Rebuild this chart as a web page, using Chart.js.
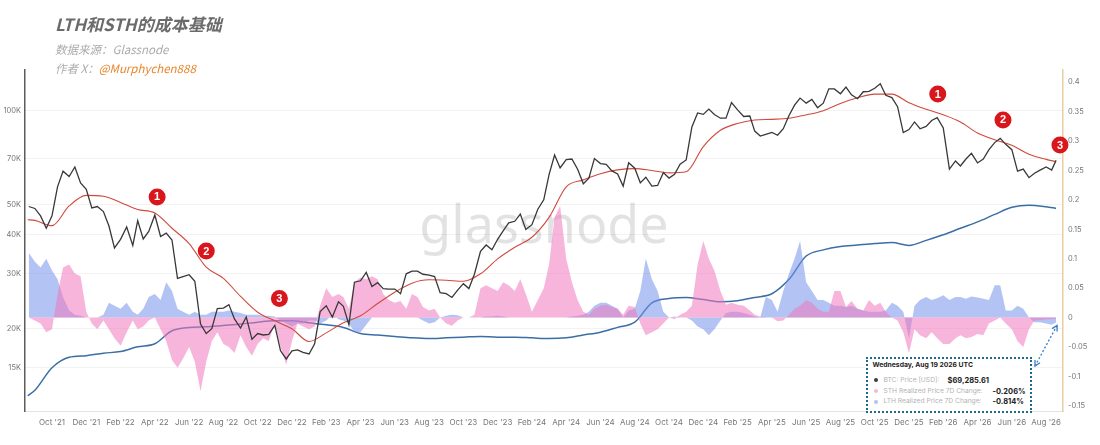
<!DOCTYPE html>
<html>
<head>
<meta charset="utf-8">
<title>LTH和STH的成本基础</title>
<script src="https://cdn.jsdelivr.net/npm/chart.js@4.4.1/dist/chart.umd.min.js"></script>
<style>
  html, body { margin: 0; padding: 0; background: #fff; }
  #wrap { position: relative; width: 1100px; height: 445px; overflow: hidden; font-family: "Noto Sans CJK SC", "Noto Sans", sans-serif; }
  #chart { position: absolute; left: 0; top: 0; }
  .title { position: absolute; left: 55px; top: 15px; font-size: 17px; line-height: 17px; font-weight: 700; font-style: italic; color: #6b6b6b; white-space: nowrap; }
  .sub { position: absolute; left: 55px; font-size: 11.5px; line-height: 12px; font-style: italic; color: #ababab; white-space: nowrap; }
  .sub .handle { color: #e8862c; }
  #tip { position: absolute; left: 866px; top: 357px; width: 166px; height: 56px; box-sizing: border-box; border: 2.5px dotted #1e6a8c; background: #fff; font-family: Inter, "Noto Sans", sans-serif; }
  #tip span { position: absolute; white-space: nowrap; line-height: 9px; }
  #tip .head { left: 4.5px; top: 0.5px; font-size: 6.8px; font-weight: 700; color: #222; }
  #tip .lbl { left: 15.5px; font-size: 6.7px; color: #b3b3b3; }
  #tip .val { font-size: 7.5px; font-weight: 700; color: #222; }
  #tip .dot { left: 5.5px; width: 4px; height: 4px; border-radius: 2px; }
</style>
</head>
<body>
<div id="wrap">
  <canvas id="chart" width="1100" height="445"></canvas>
  <div class="title">LTH和STH的成本基础</div>
  <div class="sub" style="top:43px">数据来源：Glassnode</div>
  <div class="sub" style="top:62px">作者 X：<span class="handle">@Murphychen888</span></div>
  <div id="tip">
    <span class="head">Wednesday, Aug 19 2026 UTC</span>
    <span class="dot" style="top:19.2px;background:#3d3d3d"></span>
    <span class="lbl" style="top:16.7px">BTC: Price [USD]:</span>
    <span class="val" style="top:16.7px;left:79.5px">$69,285.61</span>
    <span class="dot" style="top:30.2px;background:#f5b8da"></span>
    <span class="lbl" style="top:27.7px">STH Realized Price 7D Change:</span>
    <span class="val" style="top:27.7px;left:124.5px">-0.206%</span>
    <span class="dot" style="top:40.8px;background:#b5c3ef"></span>
    <span class="lbl" style="top:38.3px">LTH Realized Price 7D Change:</span>
    <span class="val" style="top:38.3px;left:124.5px">-0.814%</span>
  </div>
</div>
<script>
// x axis labels, one every 2 months starting Oct '21
var tickLabels = ["Oct '21", "Dec '21", "Feb '22", "Apr '22", "Jun '22", "Aug '22", "Oct '22", "Dec '22",
  "Feb '23", "Apr '23", "Jun '23", "Aug '23", "Oct '23", "Dec '23", "Feb '24", "Apr '24", "Jun '24",
  "Aug '24", "Oct '24", "Dec '24", "Feb '25", "Apr '25", "Jun '25", "Aug '25", "Oct '25", "Dec '25",
  "Feb '26", "Apr '26", "Jun '26", "Aug '26"];

var priceTicks = [15000, 20000, 30000, 40000, 50000, 70000, 100000];
var priceTickLabels = ['15K', '20K', '30K', '40K', '50K', '70K', '100K'];
var changeTicks = [-0.15, -0.1, -0.05, 0, 0.05, 0.1, 0.15, 0.2, 0.25, 0.3, 0.35, 0.4];
var changeTickLabels = ['-0.15', '-0.1', '-0.05', '0', '0.05', '0.1', '0.15', '0.2', '0.25', '0.3', '0.35', '0.4'];

// BTC price, every 1st / 11th / 21st (from 2021-08-21 to 2026-08-19)
var btcPrice = [
  49300, 48600, 46000, 42000, 46000, 57000, 64000, 61500, 66000, 58700, 56000, 48800, 49300,
  47500, 42700, 36300, 38700, 42400, 37000, 44400, 38800, 41000, 46300, 39500, 40500,
  38500, 29000, 29400, 29800, 28400, 20700, 19300, 20000, 23200, 23300, 23900, 21500,
  20100, 21800, 18500, 19300, 19100, 19200, 20500, 17000, 16000, 17000, 17100, 16800,
  16600, 17900, 22700, 23700, 21800, 24400, 23600, 20600, 28200, 28500, 30300, 27300,
  28100, 26900, 26800, 26800, 25900, 30000, 30600, 30600, 29900, 29700, 29400, 26100,
  25900, 25200, 26600, 27900, 26900, 29900, 35400, 37100, 35800, 38700, 41200, 43700,
  44200, 46600, 41600, 43100, 48300, 51800, 62400, 72100, 65500, 69700, 70000, 64900,
  58300, 60800, 70200, 67700, 67300, 64100, 62700, 57300, 68100, 65400, 58700, 61200,
  57300, 57600, 63300, 60800, 62500, 67400, 69500, 88700, 98300, 97300, 101200, 97200,
  94600, 94600, 106100, 100600, 95800, 96100, 86000, 82900, 84000, 85200, 83400, 87500,
  96500, 104200, 109700, 105700, 108700, 102200, 105700, 117500, 117400, 113300, 119000, 112400,
  109200, 115000, 115300, 118000, 122000, 112000, 110100, 103000, 85100, 87000, 92000, 87500,
  89000, 93000, 95000, 88000, 65000, 69000, 66500, 70000, 73000, 68000, 70000, 75000,
  79000, 81500, 78000, 75000, 64000, 65000, 61000, 63000, 64500, 66000, 64500, 69285.61
];

// STH realized price 7D change (pink area, right axis), same dates as btcPrice
var sthChange7d = [
  0.0, -0.005, -0.01, -0.025, -0.02, 0.04, 0.085, 0.09, 0.075, 0.07, 0.01, -0.01, -0.02,
  -0.005, -0.02, -0.035, -0.048, -0.025, -0.005, -0.02, -0.015, -0.005, 0.0, -0.02, -0.04,
  -0.072, -0.085, -0.07, -0.05, -0.075, -0.125, -0.075, -0.04, -0.025, -0.045, -0.05, -0.06,
  -0.03, -0.05, -0.065, -0.045, -0.035, -0.04, -0.01, -0.05, -0.08, -0.04, -0.01, -0.015,
  -0.02, -0.015, 0.02, 0.05, 0.035, 0.04, 0.035, 0.015, 0.06, 0.068, 0.065, 0.07,
  0.065, 0.04, 0.03, 0.025, 0.028, 0.015, 0.04, 0.035, 0.018, 0.012, 0.015, 0.0,
  -0.01, -0.014, -0.005, 0.0, 0.0, 0.005, 0.05, 0.055, 0.05, 0.045, 0.06, 0.055,
  0.045, 0.065, 0.04, 0.01, 0.03, 0.05, 0.09, 0.17, 0.19, 0.1, 0.06, 0.03,
  0.01, 0.005, 0.015, 0.02, 0.022, 0.018, 0.015, 0.005, 0.02, 0.018, -0.01, -0.03,
  -0.025, -0.02, -0.01, 0.0, -0.003, 0.005, 0.01, 0.02, 0.09, 0.13, 0.1, 0.08,
  0.045, 0.022, 0.025, 0.022, 0.02, 0.012, 0.005, 0.002, 0.0, 0.0, -0.006, -0.005,
  0.005, 0.015, 0.02, 0.03, 0.025, 0.015, 0.01, 0.01, 0.045, 0.045, 0.018, 0.028,
  0.015, 0.012, 0.03, 0.02, 0.025, 0.01, 0.0, -0.005, -0.025, -0.06, -0.02, -0.03,
  -0.035, -0.025, -0.035, -0.045, -0.045, -0.035, -0.03, -0.035, -0.033, -0.028, -0.03, -0.01,
  -0.005, 0.0, -0.01, -0.02, -0.04, -0.05, -0.02, -0.005, -0.004, -0.003, -0.003, -0.00206
];

// LTH realized price 7D change (blue area, right axis)
var lthChange7d = [
  0.11, 0.095, 0.085, 0.1, 0.08, 0.065, 0.035, 0.012, 0.005, 0.003, 0.0, 0.0, 0.0,
  0.005, 0.025, 0.02, 0.015, 0.025, 0.01, 0.005, 0.015, 0.035, 0.04, 0.03, 0.06,
  0.045, 0.015, 0.01, 0.005, 0.01, 0.005, 0.005, 0.01, 0.01, 0.01, 0.012, 0.01,
  0.008, 0.005, 0.005, 0.005, 0.003, 0.003, 0.002, -0.005, -0.01, -0.015, -0.01, -0.01,
  -0.005, -0.005, -0.01, -0.005, 0.005, -0.003, -0.005, -0.01, -0.025, -0.025, -0.012, 0.0,
  0.0, 0.0, 0.0, 0.0, 0.0, 0.0, 0.0, 0.0, -0.005, -0.01, -0.008, 0.0,
  0.003, 0.005, 0.004, 0.0, 0.0, 0.0, 0.0, 0.002, 0.002, 0.003, 0.002, 0.0,
  0.0, 0.0, 0.0, 0.0, 0.0, 0.0, 0.0, 0.0, 0.0, 0.0, 0.002, 0.003,
  0.005, 0.01, 0.02, 0.025, 0.025, 0.02, 0.015, 0.0, 0.012, 0.015, 0.045, 0.1,
  0.065, 0.045, 0.01, 0.0, 0.002, 0.0, 0.0, -0.005, -0.015, -0.02, -0.03, -0.02,
  -0.005, 0.008, 0.01, 0.01, 0.008, 0.005, 0.002, 0.0, 0.035, 0.03, 0.01, 0.045,
  0.075, 0.1, 0.13, 0.06, 0.045, 0.03, 0.03, 0.025, 0.02, 0.02, 0.018, 0.02,
  0.015, 0.012, 0.01, 0.01, 0.01, 0.012, 0.025, 0.02, 0.01, -0.035, 0.02, 0.03,
  0.035, 0.03, 0.033, 0.038, 0.03, 0.035, 0.035, 0.032, 0.036, 0.034, 0.032, 0.03,
  0.055, 0.055, 0.012, 0.012, 0.02, 0.015, 0.0, -0.008, -0.008, -0.01, -0.012, -0.00814
];

// realized prices, 1st of each month (plus first / last day)
var sthRealized = [
  44700, 44500, 42800, 49500, 53500,
  53200, 50800, 48200, 47000, 42000, 37500, 31500, 29000, 25400, 22600, 21200, 20000,
  18200, 19400, 20900, 22000, 24100, 26200, 28000, 28700, 28600, 28400, 30000, 33500,
  36500, 39300, 45500, 57000, 60000, 62800, 64600, 65200, 64300, 63200, 63700, 76700,
  86500, 91000, 93300, 93800, 94600, 96900, 100000, 105500, 110000, 113000, 113000, 106000,
  101000, 97000, 92000, 84800, 80700, 77500, 72500, 69800, 68700
];
var lthRealized = [
  12200, 12700, 15000, 16200, 16400,
  16700, 16900, 17500, 17900, 19700, 20200, 20300, 20500, 20700, 21000, 21200, 21200,
  20900, 20600, 20200, 19300, 19100, 18900, 18700, 18600, 18700, 18800, 18900, 18800,
  18800, 18700, 18600, 18700, 19100, 19500, 20200, 21000, 24200, 25000, 25200, 24800,
  24400, 24600, 25200, 25900, 28800, 34200, 35800, 36700, 37100, 37500, 37800, 37000,
  38400, 40000, 42000, 44000, 46500, 49000, 49800, 49200, 48600
];

// red numbered markers
var noteDates = ['2022-04-05', '2022-07-01', '2022-11-09', '2026-01-22', '2026-05-16', '2026-08-26'];
var notePrices = [52900, 35500, 25000, 113100, 93400, 77600];
var noteLabels = ['1', '2', '3', '1', '2', '3'];

// ---- helpers ----
function buildDates(first, last, days) {
  var out = [];
  for (var y = 2021; y <= 2026; y++) {
    for (var mo = 1; mo <= 12; mo++) {
      days.forEach(d => {
        var s = y + '-' + String(mo).padStart(2, '0') + '-' + String(d).padStart(2, '0');
        if (s >= first && s <= last) out.push(s);
      });
    }
  }
  return out;
}
var gridDates = buildDates('2021-08-21', '2026-08-11', [1, 11, 21]).concat(['2026-08-19']);
var rpDates = ['2021-08-19'].concat(buildDates('2021-09-01', '2026-08-01', [1]), ['2026-08-19']);

// months since Oct 1 2021
function monthIndex(s) {
  var p = s.split('-').map(Number);
  var dim = new Date(p[0], p[1], 0).getDate();
  return (p[0] - 2021) * 12 + (p[1] - 10) + (p[2] - 1) / dim;
}
function pts(dates, vals) {
  return dates.map((d, i) => ({ x: monthIndex(d), y: vals[i] }));
}

// watermark behind the series
var watermark = {
  id: 'watermark',
  beforeDatasetsDraw(chart) {
    var a = chart.chartArea, ctx = chart.ctx;
    ctx.save();
    ctx.font = '400 52px "Noto Sans"';
    ctx.fillStyle = 'rgba(0,0,0,0.115)';
    ctx.textAlign = 'center';
    ctx.textBaseline = 'alphabetic';
    ctx.fillText('glassnode', (a.left + a.right) / 2, a.top + 173);
    ctx.restore();
  }
};

// numbered circles + dotted arrow to the tooltip box
var notes = {
  id: 'notes',
  afterDraw(chart) {
    var ctx = chart.ctx, xs = chart.scales.x, ys = chart.scales.y, y1 = chart.scales.y1;
    ctx.save();
    noteDates.forEach((d, i) => {
      var x = xs.getPixelForValue(monthIndex(d));
      var y = ys.getPixelForValue(notePrices[i]);
      ctx.beginPath();
      ctx.arc(x, y, 8.5, 0, Math.PI * 2);
      ctx.fillStyle = '#d8161b';
      ctx.fill();
      ctx.fillStyle = '#fff';
      ctx.font = 'bold 11px "Liberation Sans"';
      ctx.textAlign = 'center';
      ctx.textBaseline = 'middle';
      ctx.fillText(noteLabels[i], x, y + 0.5);
    });

    var last = gridDates.length - 1;
    var hx = xs.getPixelForValue(monthIndex(gridDates[last])) + 1;
    var hy = y1.getPixelForValue(lthChange7d[last]) + 3;
    var tx = 1035, ty = 366;
    ctx.strokeStyle = '#3b7dc0';
    ctx.lineWidth = 1.3;
    ctx.setLineDash([2, 2]);
    ctx.beginPath();
    ctx.moveTo(tx, ty);
    ctx.lineTo(hx, hy);
    ctx.stroke();
    ctx.setLineDash([]);
    var ang = Math.atan2(hy - ty, hx - tx);
    [[hx, hy, ang], [tx, ty, ang + Math.PI]].forEach(h => {
      ctx.beginPath();
      ctx.moveTo(h[0] - 6 * Math.cos(h[2] - 0.5), h[1] - 6 * Math.sin(h[2] - 0.5));
      ctx.lineTo(h[0], h[1]);
      ctx.lineTo(h[0] - 6 * Math.cos(h[2] + 0.5), h[1] - 6 * Math.sin(h[2] + 0.5));
      ctx.stroke();
    });
    ctx.restore();
  }
};

Chart.defaults.font.family = 'Inter, "Noto Sans", sans-serif';

var ctx = document.getElementById('chart').getContext('2d');
var chart = new Chart(ctx, {
  type: 'line',
  data: {
    datasets: [{
      label: 'BTC: Price [USD]',
      data: pts(gridDates, btcPrice),
      yAxisID: 'y',
      borderColor: '#383838',
      borderWidth: 1.3,
      pointRadius: 0
    }, {
      label: 'STH Realized Price',
      data: pts(rpDates, sthRealized),
      yAxisID: 'y',
      borderColor: '#cf4a3c',
      borderWidth: 1.1,
      pointRadius: 0,
      cubicInterpolationMode: 'monotone'
    }, {
      label: 'STH Realized Price 7D Change',
      data: pts(gridDates, sthChange7d),
      yAxisID: 'y1',
      borderColor: 'rgba(0,0,0,0)',
      borderWidth: 0,
      backgroundColor: 'rgba(240,120,190,0.55)',
      fill: 'origin',
      pointRadius: 0
    }, {
      label: 'LTH Realized Price 7D Change',
      data: pts(gridDates, lthChange7d),
      yAxisID: 'y1',
      borderColor: 'rgba(0,0,0,0)',
      borderWidth: 0,
      backgroundColor: 'rgba(115,145,235,0.55)',
      fill: 'origin',
      pointRadius: 0
    }, {
      label: 'LTH Realized Price',
      data: pts(rpDates, lthRealized),
      yAxisID: 'y',
      borderColor: '#3a6ea5',
      borderWidth: 1.5,
      pointRadius: 0,
      cubicInterpolationMode: 'monotone'
    }]
  },
  options: {
    responsive: false,
    animation: false,
    events: [],
    layout: { padding: { top: 70, left: 0, right: 0, bottom: 0 } },
    plugins: { legend: { display: false }, tooltip: { enabled: false } },
    scales: {
      x: {
        type: 'linear',
        min: -1.575,
        max: 58.985,
        bounds: 'data',
        grid: { display: false, drawTicks: false },
        border: { display: true, color: '#e4e4e4', width: 1 },
        ticks: {
          autoSkip: false, maxRotation: 0, padding: 7, color: '#777', font: { size: 8 },
          callback: (v, i) => tickLabels[i]
        },
        afterBuildTicks: s => { s.ticks = tickLabels.map((t, i) => ({ value: i * 2 })); },
        afterFit: s => { s.height = 34; }
      },
      y: {
        type: 'logarithmic',
        position: 'left',
        min: 10900,
        max: 135000,
        bounds: 'data',
        grid: { color: '#f2f2f2', drawTicks: false },
        border: { display: true, color: '#5c5c5c', width: 1.5 },
        ticks: { autoSkip: false, padding: 4, color: '#777', font: { size: 7.5 }, callback: (v, i) => priceTickLabels[i] },
        afterBuildTicks: s => { s.ticks = priceTicks.map(v => ({ value: v })); },
        afterFit: s => { s.width = 25; }
      },
      y1: {
        type: 'linear',
        position: 'right',
        min: -0.1586,
        max: 0.4204,
        bounds: 'data',
        grid: { display: false, drawTicks: false },
        border: { display: true, color: '#e8cda4', width: 1.5 },
        ticks: { autoSkip: false, padding: 5, color: '#777', font: { size: 7.5 }, callback: (v, i) => changeTickLabels[i] },
        afterBuildTicks: s => { s.ticks = changeTicks.map(v => ({ value: v })); },
        afterFit: s => { s.width = 37; }
      }
    }
  },
  plugins: [watermark, notes]
});
</script>
</body>
</html>
